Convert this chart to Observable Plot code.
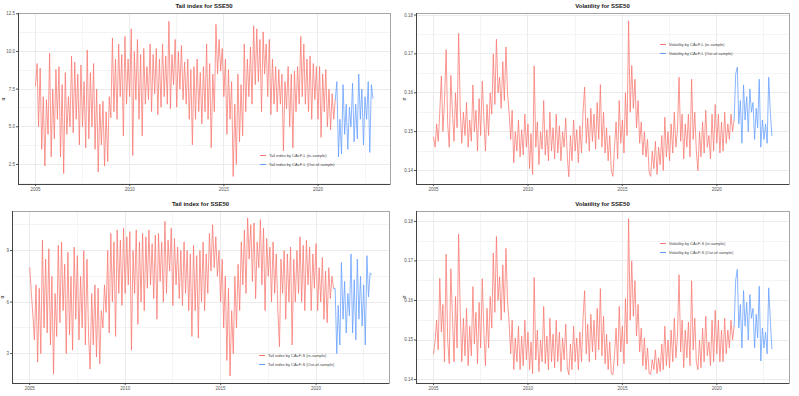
<!DOCTYPE html>
<html><head><meta charset="utf-8">
<script src="https://cdn.jsdelivr.net/npm/d3@7"></script>
<script src="https://cdn.jsdelivr.net/npm/@observablehq/plot@0.6"></script>
<style>
body{margin:0;background:#fff;font-family:"Liberation Sans",Arial,sans-serif;}
#root{position:relative;width:799px;height:396px;overflow:hidden;background:#fff;}
.title{position:absolute;font-weight:bold;font-size:6px;line-height:7px;color:#1a1a1a;text-align:center;width:200px;}
.ylab{position:absolute;font-size:5px;line-height:6px;color:#1a1a1a;transform:rotate(-90deg);}
.leg{position:absolute;font-size:4px;line-height:5px;color:#444;white-space:nowrap;}
.sw{position:absolute;height:1px;width:6px;}
.panel{position:absolute;}
</style></head>
<body><div id="root"></div>
<script>
// ---------------- data (monthly readings, in-sample from Jan 2005, out-of-sample from Jan 2021)
const inStart = 2005, outStart = 2021;
const xMajor = [2005, 2010, 2015, 2020];
const xMinor = [2007.5, 2012.5, 2017.5, 2022.5];

const tailL_in = [
7.7,9.2,5.0,8.9,3.5,7.0,2.4,6.8,4.5,9.9,3.0,7.5,
4.2,8.8,5.5,9.0,3.0,7.8,1.9,8.6,4.5,7.0,5.0,9.7,
4.6,9.3,5.5,8.5,3.8,9.1,5.0,8.0,3.6,10.1,4.2,8.6,
5.0,9.2,3.5,7.5,2.0,6.5,3.8,6.7,2.4,6.0,2.7,7.0,
5.6,10.9,6.0,9.5,5.5,10.5,7.0,9.8,4.4,11.0,6.5,9.5,
7.0,11.5,3.1,10.0,6.8,10.8,5.5,9.8,4.4,10.2,6.5,9.0,
6.8,10.5,6.0,9.8,7.2,10.2,5.8,9.5,6.3,10.5,7.0,9.7,
6.5,12.0,6.2,9.8,7.8,10.8,6.3,10.0,7.5,10.4,6.8,9.3,
6.5,9.5,5.5,8.8,3.8,9.0,5.5,9.5,6.0,8.6,5.2,9.0,
6.0,10.5,5.5,9.2,3.6,8.5,6.0,11.8,8.5,10.8,8.7,10.2,
7.0,9.5,4.5,8.8,5.5,8.0,1.7,6.5,2.5,8.5,4.0,7.8,
4.4,10.5,6.0,9.5,7.0,10.3,6.5,11.7,7.8,11.5,8.0,10.8,
6.0,11.3,8.5,10.5,7.0,10.8,5.8,9.5,6.5,9.0,6.0,8.8,
6.5,8.5,3.4,8.0,6.2,9.0,5.0,8.5,3.6,8.7,6.0,9.0,
6.5,11.0,7.0,10.5,6.5,9.5,6.0,9.7,5.5,9.2,6.8,9.0,
5.5,9.0,4.3,8.5,6.0,8.8,5.0,7.5,4.8,7.2,5.5,6.8];
const tailL_out = [8.0,3.0,5.5,3.2,7.8,4.5,6.5,3.5,6.3,5.0,7.9,4.0,
6.5,4.2,8.5,5.5,7.5,3.8,7.0,5.5,8.0,3.3,7.8,6.9];

const volL_in = [
0.1486,0.146,0.152,0.1475,0.155,0.1643,0.150,0.158,0.1711,0.152,0.146,0.1645,
0.155,0.1475,0.160,0.151,0.1753,0.156,0.1470,0.155,0.149,0.1575,0.146,0.153,
0.1475,0.162,0.150,0.1555,0.145,0.1585,0.1490,0.163,0.1535,0.145,0.157,0.149,
0.160,0.1545,0.170,0.157,0.1738,0.160,0.164,0.156,0.168,0.158,0.1718,0.160,
0.155,0.148,0.1555,0.142,0.150,0.145,0.153,0.1435,0.1505,0.144,0.1545,0.146,
0.152,0.1405,0.1495,0.139,0.1669,0.146,0.1525,0.1415,0.150,0.1455,0.158,0.144,
0.1505,0.1425,0.155,0.145,0.151,0.143,0.1545,0.1445,0.1515,0.1425,0.150,0.146,
0.1535,0.1435,0.1384,0.149,0.1425,0.153,0.145,0.1505,0.142,0.1515,0.1445,0.155,
0.1615,0.147,0.1535,0.145,0.156,0.1475,0.1545,0.1455,0.1575,0.148,0.1621,0.146,
0.155,0.1445,0.151,0.1425,0.149,0.1400,0.1385,0.146,0.1525,0.143,0.158,0.147,
0.153,0.1445,0.160,0.149,0.1785,0.155,0.167,0.156,0.1635,0.151,0.158,0.147,
0.1525,0.144,0.150,0.1435,0.148,0.1395,0.1385,0.145,0.1405,0.1475,0.139,0.146,
0.1415,0.149,0.140,0.1537,0.1435,0.150,0.1425,0.152,0.1445,0.155,0.146,0.1505,
0.164,0.1475,0.1545,0.143,0.152,0.146,0.1545,0.1435,0.1635,0.148,0.155,0.145,
0.140,0.150,0.1435,0.1525,0.1445,0.1555,0.146,0.149,0.143,0.1545,0.145,0.157,
0.147,0.1545,0.1445,0.1525,0.145,0.155,0.147,0.152,0.148,0.1545,0.150,0.153];
const volL_out = [0.1649,0.1666,0.152,0.158,0.147,0.162,0.153,0.159,0.150,0.161,0.155,0.1575,
0.148,0.156,0.151,0.1635,0.146,0.153,0.148,0.152,0.147,0.164,0.155,0.149];

const tailS_in = [
8.0,6.5,5.3,3.8,7.0,2.5,6.8,3.0,9.6,4.5,8.5,4.2,
9.1,3.5,7.5,1.8,6.5,4.0,9.3,4.8,9.5,5.5,8.2,3.0,
8.9,4.1,7.5,3.2,9.2,5.0,8.7,3.8,7.5,4.5,9.0,3.5,
8.5,4.0,2.1,6.5,3.5,7.0,2.8,6.8,2.4,5.5,4.5,7.0,
5.4,9.0,4.2,10.0,6.0,9.5,4.0,10.2,6.5,9.6,5.8,10.3,
6.5,9.8,7.0,10.1,3.2,9.0,6.5,10.2,4.7,9.5,6.0,10.0,
5.5,9.8,6.8,10.2,7.0,9.4,6.2,9.9,5.0,10.0,7.2,9.5,
6.0,10.7,6.5,9.6,7.8,10.3,5.8,9.7,7.0,9.2,6.2,9.0,
5.8,9.5,6.5,9.0,5.5,8.8,4.0,9.3,5.5,8.7,3.9,9.0,
6.0,9.5,5.5,8.8,6.5,10.0,7.8,10.5,8.0,9.8,7.5,9.0,
6.0,8.5,4.5,7.5,2.6,6.8,1.7,5.5,3.0,7.5,4.5,8.2,
5.5,9.5,7.0,10.2,6.5,10.9,8.5,10.5,7.2,10.6,6.2,9.5,
8.0,10.8,7.0,10.3,5.5,9.7,7.5,9.2,6.0,9.5,6.5,8.8,
5.5,3.4,8.5,6.5,9.0,5.0,8.8,6.0,9.2,3.5,8.5,6.0,
9.0,6.5,9.8,6.0,9.3,5.5,9.6,7.0,9.2,5.5,8.8,6.8,
9.4,5.5,8.0,6.0,8.6,5.0,7.8,4.8,8.0,6.2,7.5,6.8];
const tailS_out = [6.8,3.0,5.8,3.5,8.3,5.0,7.2,4.2,6.5,5.2,8.8,4.2,
7.3,3.8,8.5,5.0,7.5,4.6,7.0,3.5,8.7,6.3,7.7,7.6];

const volS_in = [
0.1465,0.150,0.155,0.1475,0.1656,0.152,0.159,0.1445,0.1717,0.150,0.144,0.168,
0.156,0.1445,0.161,0.148,0.1768,0.157,0.1445,0.1555,0.146,0.158,0.1435,0.1535,
0.146,0.1635,0.149,0.157,0.144,0.1595,0.148,0.1655,0.152,0.1435,0.158,0.148,
0.161,0.153,0.172,0.157,0.1762,0.160,0.166,0.155,0.169,0.157,0.1732,0.160,
0.1545,0.1465,0.155,0.1425,0.1505,0.1445,0.1535,0.1425,0.151,0.1435,0.155,0.145,
0.152,0.1425,0.1495,0.1415,0.1658,0.145,0.1525,0.142,0.150,0.1445,0.1585,0.144,
0.151,0.1425,0.1555,0.1445,0.1515,0.143,0.155,0.1445,0.152,0.142,0.1505,0.145,
0.154,0.143,0.1412,0.149,0.1425,0.1535,0.1445,0.1505,0.1425,0.152,0.1445,0.1555,
0.1625,0.1465,0.154,0.1445,0.1565,0.147,0.155,0.145,0.158,0.1475,0.163,0.146,
0.156,0.144,0.1515,0.1425,0.1495,0.1415,0.1412,0.146,0.153,0.1435,0.1585,0.147,
0.1535,0.144,0.1605,0.149,0.1807,0.155,0.170,0.156,0.165,0.151,0.159,0.147,
0.153,0.1435,0.1505,0.1425,0.148,0.1415,0.1413,0.145,0.1425,0.1475,0.1415,0.1455,
0.142,0.149,0.1425,0.1535,0.1435,0.150,0.143,0.1525,0.1445,0.1555,0.1455,0.151,
0.1665,0.147,0.155,0.143,0.1525,0.1455,0.1545,0.1435,0.165,0.1475,0.1555,0.1445,
0.1425,0.150,0.143,0.153,0.1445,0.156,0.146,0.1495,0.1435,0.155,0.1445,0.1575,
0.1465,0.155,0.1445,0.1525,0.1445,0.1555,0.1465,0.1525,0.148,0.155,0.150,0.1535];
const volS_out = [0.1652,0.1679,0.153,0.159,0.148,0.1625,0.1535,0.1595,0.150,0.1615,0.1555,0.158,
0.148,0.1565,0.1505,0.1636,0.1447,0.153,0.148,0.152,0.1465,0.1632,0.155,0.1478];

const tailL_ticks = [2.5, 5, 7.5, 10, 12.5];
const tailL_minor = [1.25, 3.75, 6.25, 8.75, 11.25];
const tailS_ticks = [3, 6, 9];
const tailS_minor = [1.5, 4.5, 7.5, 10.5];
const vol_ticks = [0.14, 0.15, 0.16, 0.17, 0.18];
const vol_minor = [0.145, 0.155, 0.165, 0.175];

// ---------------- drawing
const RED = "#F8766D", BLUE = "#619CFF";
const yd = y => new Date(Date.UTC(Math.floor(y), Math.round((y % 1) * 12), 1));
const xDomain = [new Date(Date.UTC(2004, 1, 6)), new Date(Date.UTC(2023, 10, 7))];
const root = document.getElementById("root");

function panel(cfg) {
  const inData = cfg.inVals.map((v, i) => ({date: new Date(Date.UTC(inStart, i, 1)), v}));
  const outData = [inData[inData.length - 1]].concat(
    cfg.outVals.map((v, i) => ({date: new Date(Date.UTC(outStart, i, 1)), v})));
  const svg = Plot.plot({
    width: cfg.w, height: cfg.h,
    marginLeft: cfg.ml, marginRight: cfg.mr, marginTop: 1, marginBottom: 13,
    x: {type: "utc", domain: xDomain},
    y: {domain: cfg.yDomain},
    style: {fontFamily: "'Liberation Sans', Arial, sans-serif", fontSize: "4.5px", color: "#555", background: "transparent", overflow: "visible"},
    marks: [
      Plot.ruleX(xMinor.map(yd), {stroke: "#f4f4f4", strokeWidth: 1, shapeRendering: "crispEdges"}),
      Plot.ruleY(cfg.minor, {stroke: "#f4f4f4", strokeWidth: 1, shapeRendering: "crispEdges"}),
      Plot.ruleX(xMajor.map(yd), {stroke: "#ebebeb", strokeWidth: 1, shapeRendering: "crispEdges"}),
      Plot.ruleY(cfg.ticks, {stroke: "#ebebeb", strokeWidth: 1, shapeRendering: "crispEdges"}),
      Plot.line(inData, {x: "date", y: "v", stroke: RED, strokeWidth: 0.75}),
      Plot.line(outData, {x: "date", y: "v", stroke: BLUE, strokeWidth: 0.75}),
      Plot.frame({stroke: "#a6a6a6", strokeWidth: 1}),
      Plot.axisX(xMajor.map(yd), {tickFormat: d3.utcFormat("%Y"), tickSize: 2, tickPadding: 1.5, label: null}),
      Plot.axisY(cfg.ticks, {tickFormat: cfg.fmt, tickSize: 2, tickPadding: 1.5, label: null}),
      Plot.ruleY([cfg.yDomain[0]], {stroke: "#444", strokeWidth: 1}),
      Plot.ruleX([xDomain[0]], {stroke: "#444", strokeWidth: 1})
    ]
  });
  const wrap = document.createElement("div");
  wrap.className = "panel";
  wrap.style.left = cfg.left + "px";
  wrap.style.top = cfg.top + "px";
  wrap.appendChild(svg);
  root.appendChild(wrap);

  const t = document.createElement("div");
  t.className = "title";
  t.textContent = cfg.title;
  t.style.left = (cfg.left + cfg.ml + (cfg.w - cfg.ml - cfg.mr) / 2 - 100) + "px";
  t.style.top = (cfg.top - 9) + "px";
  root.appendChild(t);

  const yl = document.createElement("div");
  yl.className = "ylab";
  yl.textContent = cfg.ylab;
  yl.style.left = (cfg.left + cfg.ylx) + "px";
  yl.style.top = (cfg.top + 1 + (cfg.h - 14) / 2 - 3) + "px";
  root.appendChild(yl);

  cfg.legend.forEach((txt, k) => {
    const y = cfg.legY + k * 9;
    const s = document.createElement("div");
    s.className = "sw";
    s.style.background = k === 0 ? RED : BLUE;
    s.style.left = (cfg.left + cfg.legX) + "px";
    s.style.top = y + "px";
    root.appendChild(s);
    const l = document.createElement("div");
    l.className = "leg";
    l.textContent = txt;
    l.style.left = (cfg.left + cfg.legX + 9) + "px";
    l.style.top = (y - 2) + "px";
    root.appendChild(l);
  });
}

panel({left: 0, top: 12, w: 398, h: 185, ml: 18, mr: 8, inVals: tailL_in, outVals: tailL_out,
  yDomain: [1.17, 12.52], ticks: tailL_ticks, minor: tailL_minor, fmt: d3.format(".1f"),
  title: "Tail index for SSE50", ylab: "α", ylx: 2,
  legend: ["Tail index by CAcF-L (in-sample)", "Tail index by CAcF-L (Out-of-sample)"], legX: 260, legY: 155});
panel({left: 400, top: 12, w: 399, h: 185, ml: 16, mr: 10, inVals: volL_in, outVals: volL_out,
  yDomain: [0.1364, 0.1804], ticks: vol_ticks, minor: vol_minor, fmt: d3.format(".2f"),
  title: "Volatility for SSE50", ylab: "σ", ylx: 2,
  legend: ["Volatility by CAcF-L (in-sample)", "Volatility by CAcF-L (Out-of-sample)"], legX: 260, legY: 44});
panel({left: 0, top: 210, w: 398, h: 186, ml: 12, mr: 9, inVals: tailS_in, outVals: tailS_out,
  yDomain: [1.26, 11.27], ticks: tailS_ticks, minor: tailS_minor, fmt: d3.format("d"),
  title: "Tail index for SSE50", ylab: "α", ylx: 1,
  legend: ["Tail index by CAcF-S (in-sample)", "Tail index by CAcF-S (Out-of-sample)"], legX: 259, legY: 355});
panel({left: 400, top: 210, w: 399, h: 186, ml: 16, mr: 10, inVals: volS_in, outVals: volS_out,
  yDomain: [0.1390, 0.1825], ticks: vol_ticks, minor: vol_minor, fmt: d3.format(".2f"),
  title: "Volatility for SSE50", ylab: "σ", ylx: 2,
  legend: ["Volatility by CAcF-S (in-sample)", "Volatility by CAcF-S (Out-of-sample)"], legX: 260, legY: 243});
</script></body></html>
